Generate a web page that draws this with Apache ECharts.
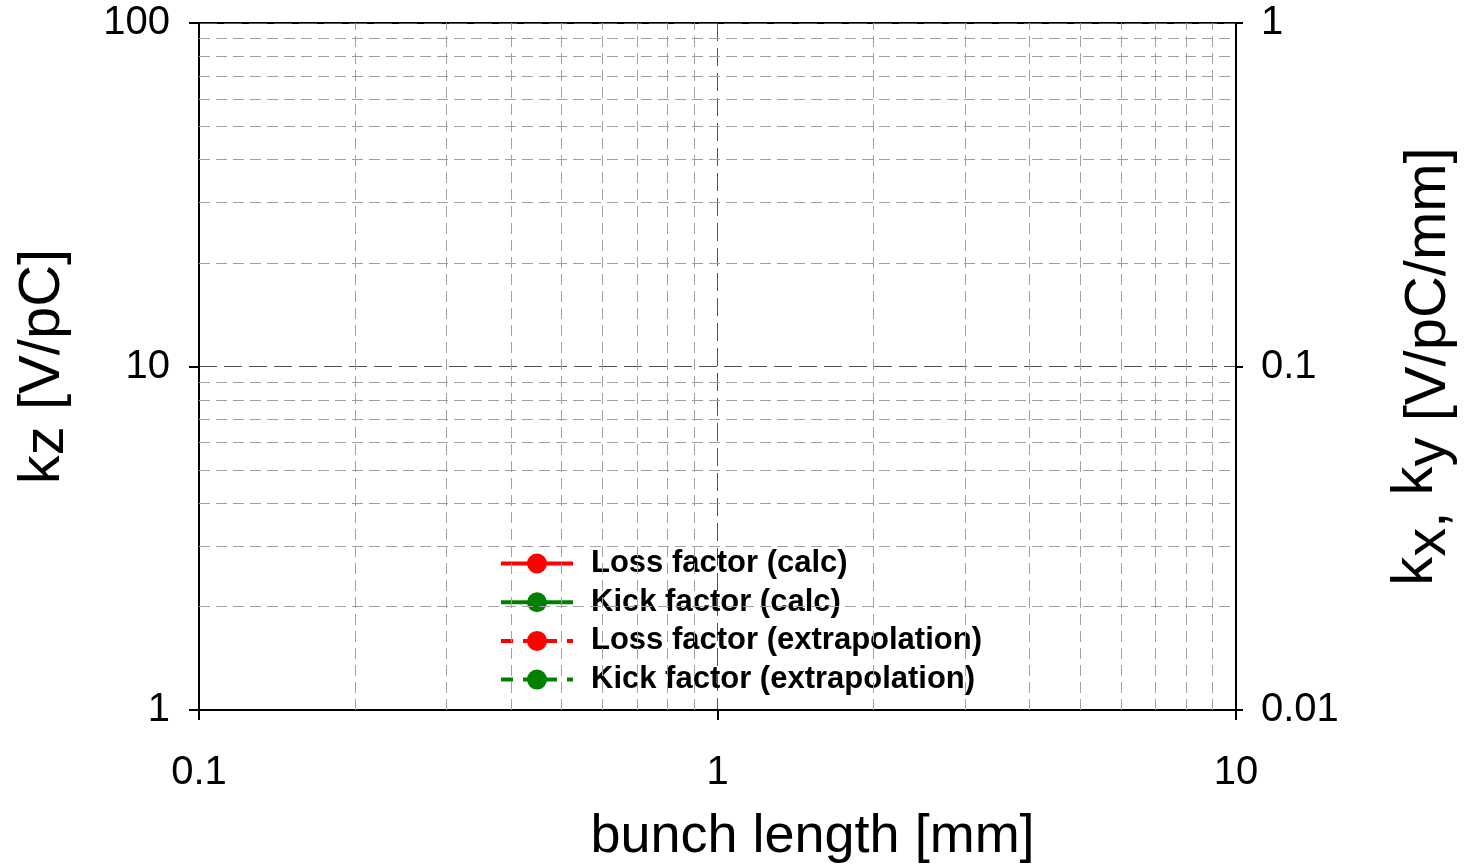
<!DOCTYPE html>
<html>
<head>
<meta charset="utf-8">
<script src="https://cdn.jsdelivr.net/npm/echarts@6/dist/echarts.min.js"></script>
<style>
html,body{margin:0;padding:0;background:#fff;}
#chart{width:1466px;height:866px;}
</style>
</head>
<body>
<div id="chart"></div>
<script>
// ---- data ----
const seriesNames = ['Loss factor (calc)', 'Kick factor (calc)', 'Loss factor (extrapolation)', 'Kick factor (extrapolation)'];
const lossCalc = [];      // no points in the reference
const kickCalc = [];
const lossExtrap = [];
const kickExtrap = [];
const xTicks = [0.1, 1, 10];
const xTickLabels = ['0.1', '1', '10'];
const yLeftTicks = [1, 10, 100];
const yLeftTickLabels = ['1', '10', '100'];
const yRightTicks = [0.01, 0.1, 1];
const yRightTickLabels = ['0.01', '0.1', '1'];
const xMinor = [0.2, 0.3, 0.4, 0.5, 0.6, 0.7, 0.8, 0.9, 2, 3, 4, 5, 6, 7, 8, 9];
const yMinor = [2, 3, 4, 5, 6, 7, 8, 9, 20, 30, 40, 50, 60, 70, 80, 90];

function labelFor(ticks, labels) {
  return function (v) {
    for (let i = 0; i < ticks.length; i++) {
      if (Math.abs(Math.log10(v) - Math.log10(ticks[i])) < 1e-6) return labels[i];
    }
    return '';
  };
}

const FONT = "'Liberation Sans', Arial, sans-serif";
const chart = echarts.init(document.getElementById('chart'));

const majorSplit = { show: true, lineStyle: { color: '#505050', type: [18, 7], width: 1 } };

const option = {
  animation: false,
  textStyle: { fontFamily: FONT },
  grid: { left: 199, right: 230, top: 23, bottom: 156, show: true, borderColor: '#000', borderWidth: 2,
          containLabel: false, outerBoundsMode: 'none' },
  legend: {
    data: seriesNames,
    orient: 'vertical',
    left: 499,
    top: 548,
    padding: 0,
    itemWidth: 72,
    itemHeight: 25,
    itemGap: 7.7,
    lineStyle: { width: 4 },
    textStyle: { fontFamily: FONT, fontSize: 31, fontWeight: 'bold', color: '#000', lineHeight: 31, padding: [0, 0, 0, 13] }
  },
  xAxis: [{
    type: 'log', logBase: 10, min: 0.1, max: 10,
    name: 'bunch length [mm]', nameLocation: 'middle', nameGap: 100,
    nameTextStyle: { fontSize: 54, color: '#000', fontFamily: FONT, lineHeight: 54, padding: [0, 0, 0, 190] },
    axisLine: { show: true, lineStyle: { color: '#000', width: 2 } },
    axisTick: { show: true, inside: false, length: 10, lineStyle: { color: '#000', width: 2 } },
    axisLabel: { fontSize: 40, color: '#000', margin: 43, formatter: labelFor(xTicks, xTickLabels) },
    splitLine: majorSplit,
    minorTick: { show: false }
  }],
  yAxis: [{
    type: 'log', logBase: 10, min: 1, max: 100, position: 'left',
    name: '{k|k}{z|z}{k| [V/pC]}', nameLocation: 'middle', nameRotate: 90, nameGap: 123,
    nameTextStyle: {
      color: '#000', fontFamily: FONT,
      rich: {
        k: { fontSize: 58, lineHeight: 58, verticalAlign: 'top', color: '#000', fontFamily: FONT },
        z: { fontSize: 58, lineHeight: 62, verticalAlign: 'bottom', color: '#000', fontFamily: FONT }
      }
    },
    axisLine: { show: true, lineStyle: { color: '#000', width: 2 } },
    axisTick: { show: true, inside: false, length: 10, lineStyle: { color: '#000', width: 2 } },
    axisLabel: { fontSize: 40, color: '#000', margin: 29, formatter: labelFor(yLeftTicks, yLeftTickLabels) },
    splitLine: majorSplit
  }, {
    type: 'log', logBase: 10, min: 0.01, max: 1, position: 'right',
    name: '{k|k}{s|x, }{k|k}{s|y [V/pC/mm]}', nameLocation: 'middle', nameRotate: 90, nameGap: 151,
    nameTextStyle: {
      color: '#000', fontFamily: FONT,
      rich: {
        k: { fontSize: 58, lineHeight: 58, verticalAlign: 'top', color: '#000', fontFamily: FONT },
        s: { fontSize: 58, lineHeight: 71, verticalAlign: 'bottom', color: '#000', fontFamily: FONT }
      }
    },
    axisLine: { show: true, lineStyle: { color: '#000', width: 2 } },
    axisTick: { show: true, inside: false, length: 7, lineStyle: { color: '#000', width: 2 } },
    axisLabel: { fontSize: 40, color: '#000', margin: 25, formatter: labelFor(yRightTicks, yRightTickLabels) },
    splitLine: { show: false }
  }],
  series: [
    {
      name: 'minor grid', type: 'line', data: [], xAxisIndex: 0, yAxisIndex: 0, silent: true,
      markLine: {
        silent: true, symbol: 'none', animation: false,
        label: { show: false },
        emphasis: { disabled: true },
        lineStyle: { color: '#a89ca8', type: [11, 6], width: 1 },
        data: xMinor.map(v => ({ xAxis: v })).concat(yMinor.map(v => ({ yAxis: v })))
      }
    },
    { name: seriesNames[0], type: 'line', data: lossCalc, xAxisIndex: 0, yAxisIndex: 0, symbol: 'circle', symbolSize: 20,
      itemStyle: { color: '#ff0000' }, lineStyle: { color: '#ff0000', width: 4 } },
    { name: seriesNames[1], type: 'line', data: kickCalc, xAxisIndex: 0, yAxisIndex: 1, symbol: 'circle', symbolSize: 20,
      itemStyle: { color: '#008000' }, lineStyle: { color: '#008000', width: 4 } },
    { name: seriesNames[2], type: 'line', data: lossExtrap, xAxisIndex: 0, yAxisIndex: 0, symbol: 'circle', symbolSize: 20,
      itemStyle: { color: '#ff0000' }, lineStyle: { color: '#ff0000', width: 4, type: [12, 10] } },
    { name: seriesNames[3], type: 'line', data: kickExtrap, xAxisIndex: 0, yAxisIndex: 1, symbol: 'circle', symbolSize: 20,
      itemStyle: { color: '#008000' }, lineStyle: { color: '#008000', width: 4, type: [12, 10] } }
  ]
};
chart.setOption(option);
</script>
</body>
</html>
